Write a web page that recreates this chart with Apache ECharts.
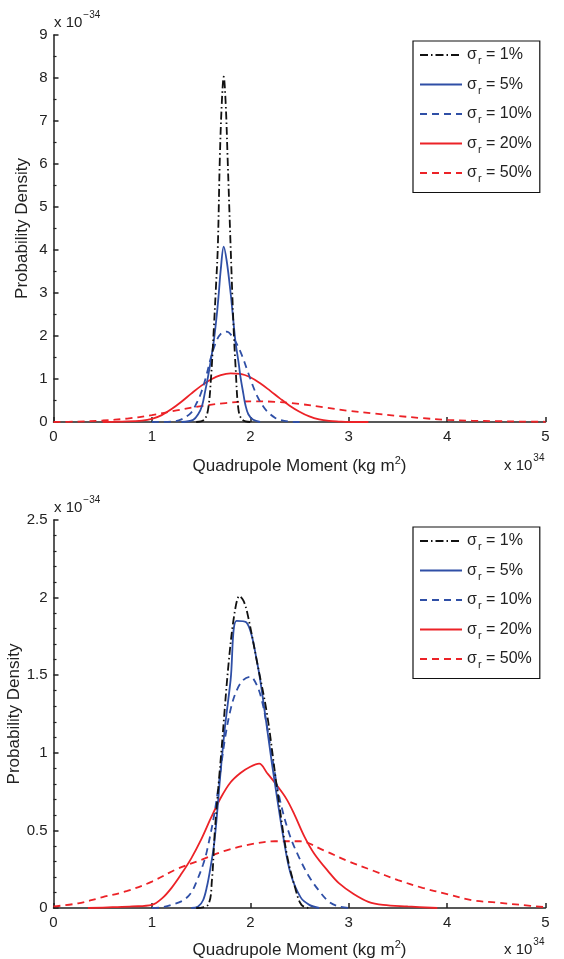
<!DOCTYPE html>
<html lang="en">
<head>
    <meta charset="UTF-8">
    <title>Quadrupole moment PDF</title>
    <script src="https://cdn.jsdelivr.net/npm/echarts@6/dist/echarts.min.js"></script>
    <style>
        * { margin: 0; padding: 0; }
        body { background: #fff; }
        #chart { width: 564px; height: 959px; }
    </style>
</head>
<body>
    <div id="chart"></div>
    <script>
        // legend names
        const names = ['1%', '5%', '10%', '20%', '50%'];

        // tick labels
        const xTicks = [0, 1, 2, 3, 4, 5];
        const yTicksTop = [0, 1, 2, 3, 4, 5, 6, 7, 8, 9];
        const yTicksBottom = [0, 0.5, 1, 1.5, 2, 2.5];

        // upper panel, [x (1e34), density (1e-34)]
        const top1 = [[1.45,0],[1.53,0.05],[1.57,0.28],[1.60,1.0],[1.63,2.2],[1.65,3.1],[1.67,4.08],[1.69,6.1],[1.71,7.4],[1.73,8.03],[1.75,7.4],[1.77,6.1],[1.80,4.08],[1.83,2.2],[1.85,1.3],[1.88,0.28],[1.92,0.05],[2.0,0]];
        const top5 = [[1.3,0],[1.42,0.05],[1.47,0.18],[1.51,0.38],[1.54,0.7],[1.57,1.05],[1.60,1.45],[1.63,1.9],[1.66,2.5],[1.68,3.0],[1.70,3.55],[1.73,4.08],[1.76,3.75],[1.80,3.0],[1.83,2.3],[1.85,1.85],[1.88,1.4],[1.90,1.05],[1.93,0.65],[1.95,0.4],[1.98,0.18],[2.03,0.05],[2.1,0]];
        const top10 = [[1.0,0],[1.2,0.01],[1.3,0.06],[1.4,0.22],[1.45,0.42],[1.5,0.68],[1.55,1.05],[1.6,1.5],[1.65,1.85],[1.7,2.05],[1.76,2.1],[1.82,1.98],[1.87,1.78],[1.92,1.52],[1.97,1.2],[2.02,0.88],[2.07,0.6],[2.12,0.4],[2.17,0.25],[2.25,0.1],[2.3,0.05],[2.4,0.01],[2.5,0]];
        const top20 = [[0.5,0],[0.7,0.01],[0.9,0.03],[1.0,0.07],[1.1,0.16],[1.2,0.3],[1.3,0.47],[1.4,0.66],[1.5,0.84],[1.6,0.99],[1.7,1.09],[1.8,1.13],[1.9,1.12],[2.0,1.04],[2.1,0.9],[2.2,0.73],[2.3,0.55],[2.4,0.38],[2.5,0.24],[2.6,0.13],[2.7,0.06],[2.8,0.025],[2.9,0.01],[3.0,0],[3.2,0]];
        const top50 = [[0,0],[0.25,0.01],[0.5,0.035],[0.75,0.08],[1.0,0.16],[1.25,0.27],[1.5,0.37],[1.75,0.44],[2.0,0.48],[2.25,0.47],[2.5,0.42],[2.75,0.34],[3.0,0.26],[3.25,0.2],[3.5,0.14],[3.75,0.09],[4.0,0.05],[4.25,0.03],[4.5,0.02],[4.75,0.01],[5.0,0.005]];

        // lower panel
        const bot1 = [[1.45,0],[1.57,0.02],[1.61,0.18],[1.64,0.5],[1.71,1.04],[1.78,1.58],[1.84,1.9],[1.89,2.01],[1.93,1.98],[1.97,1.9],[2.07,1.58],[2.17,1.25],[2.27,0.78],[2.37,0.35],[2.46,0.12],[2.52,0.02],[2.6,0]];
        const bot5 = [[1.4,0],[1.47,0.01],[1.52,0.05],[1.56,0.14],[1.59,0.24],[1.63,0.4],[1.66,0.59],[1.69,0.82],[1.74,1.15],[1.80,1.47],[1.86,1.85],[1.96,1.84],[2.07,1.58],[2.15,1.25],[2.22,0.93],[2.27,0.72],[2.34,0.44],[2.41,0.22],[2.51,0.07],[2.6,0.02],[2.7,0]];
        const bot10 = [[1.0,0],[1.1,0.005],[1.2,0.02],[1.32,0.05],[1.4,0.1],[1.46,0.18],[1.52,0.28],[1.56,0.37],[1.63,0.59],[1.68,0.8],[1.74,1.08],[1.8,1.28],[1.86,1.4],[1.93,1.47],[2.0,1.49],[2.07,1.43],[2.12,1.33],[2.17,1.17],[2.22,0.98],[2.3,0.7],[2.4,0.47],[2.5,0.32],[2.6,0.2],[2.7,0.11],[2.8,0.04],[2.9,0.01],[3.0,0]];
        const bot20 = [[0.35,0],[0.6,0.005],[0.8,0.01],[1.0,0.02],[1.1,0.06],[1.2,0.13],[1.3,0.22],[1.4,0.32],[1.5,0.44],[1.6,0.58],[1.7,0.71],[1.8,0.81],[1.9,0.87],[2.0,0.91],[2.09,0.93],[2.17,0.87],[2.27,0.79],[2.37,0.7],[2.45,0.6],[2.55,0.46],[2.65,0.35],[2.8,0.23],[2.9,0.16],[3.05,0.09],[3.2,0.04],[3.35,0.02],[3.6,0.01],[3.9,0]];
        const bot50 = [[0,0.01],[0.25,0.03],[0.5,0.07],[0.75,0.11],[1.0,0.17],[1.25,0.25],[1.5,0.31],[1.75,0.37],[2.0,0.41],[2.25,0.43],[2.5,0.43],[2.75,0.37],[3.0,0.3],[3.25,0.24],[3.5,0.18],[3.75,0.13],[4.0,0.09],[4.25,0.05],[4.5,0.035],[4.75,0.02],[5.0,0.005]];

        const FONT = 'Liberation Sans';
        const BLUE = '#2f4fa6';
        const RED = '#ec2227';
        const BLACK = '#111';

        const styles = [
            { color: BLACK, type: [8, 3, 1.5, 3] },
            { color: BLUE, type: 'solid' },
            { color: BLUE, type: [7, 5] },
            { color: RED, type: 'solid' },
            { color: RED, type: [7, 5] }
        ];

        function label(n) {
            return '{s|σ}{sub|r}{s| = ' + n + '}';
        }

        function makeSeries(list, idx) {
            return list.map((d, i) => ({
                name: label(names[i]),
                type: 'line',
                xAxisIndex: idx,
                yAxisIndex: idx,
                data: d,
                showSymbol: false,
                symbol: 'none',
                smooth: 0.35,
                z: 5 - i,
                lineStyle: { width: 1.8, color: styles[i].color, type: styles[i].type },
                itemStyle: { color: styles[i].color }
            }));
        }

        function xAxisFor(idx, gap) {
            return {
                type: 'value', gridIndex: idx, min: 0, max: 5, interval: 1,
                name: '{a|Quadrupole Moment (kg m}{b|2}{a|)}',
                nameLocation: 'middle', nameGap: gap, nameMoveOverlap: false,
                nameTextStyle: {
                    rich: {
                        a: { fontFamily: FONT, fontSize: 17, color: '#222', verticalAlign: 'bottom' },
                        b: { fontFamily: FONT, fontSize: 11, color: '#222', verticalAlign: 'top', padding: [0, 0, 9, 0] }
                    }
                },
                axisLine: { show: true, lineStyle: { color: '#222', width: 1.5 } },
                axisTick: { show: true, inside: true, length: 5, lineStyle: { color: '#222', width: 1.5 } },
                axisLabel: {
                    fontFamily: FONT, fontSize: 15, color: '#222', margin: 7,
                    formatter: v => String(xTicks.find(t => Math.abs(t - v) < 1e-9) ?? v)
                },
                splitLine: { show: false }
            };
        }

        function yAxisFor(idx, max, interval, minor, ticks, gap) {
            return {
                type: 'value', gridIndex: idx, min: 0, max: max, interval: interval,
                name: 'Probability Density',
                nameLocation: 'middle', nameGap: gap, nameMoveOverlap: false,
                nameTextStyle: { fontFamily: FONT, fontSize: 17, color: '#222' },
                axisLine: { show: true, lineStyle: { color: '#222', width: 1.5 } },
                axisTick: { show: true, inside: true, length: 5, lineStyle: { color: '#222', width: 1.5 } },
                minorTick: { show: true, splitNumber: minor, length: 3, lineStyle: { color: '#222', width: 1.2 } },
                axisLabel: {
                    fontFamily: FONT, fontSize: 15, color: '#222', margin: 6,
                    formatter: v => String(ticks.find(t => Math.abs(t - v) < 1e-9) ?? v)
                },
                splitLine: { show: false }
            };
        }

        function legendFor(top) {
            return {
                orient: 'vertical',
                left: 413,
                top: top,
                data: names.map(n => label(n)),
                itemWidth: 42,
                itemHeight: 14,
                itemGap: 10,
                padding: [6, 8, 8, 6],
                borderColor: '#111',
                borderWidth: 1.2,
                borderRadius: 0,
                backgroundColor: '#fff',
                selectedMode: false,
                itemStyle: { opacity: 0 },
                textStyle: {
                    fontFamily: FONT, fontSize: 16, color: '#222',
                    rich: {
                        s: { fontFamily: FONT, fontSize: 16, color: '#222' },
                        sub: { fontFamily: FONT, fontSize: 11, color: '#222', verticalAlign: 'bottom', padding: [12, 0, 0, 1] }
                    }
                }
            };
        }

        function sciText(x, y, sign) {
            return {
                type: 'text', left: x, top: y, z: 100,
                style: {
                    text: '{a|x 10}{b|' + sign + '34}',
                    rich: {
                        a: { fontFamily: FONT, fontSize: 15, fill: '#222', verticalAlign: 'bottom' },
                        b: { fontFamily: FONT, fontSize: 10, fill: '#222', verticalAlign: 'top', padding: [0, 0, 10, 1] }
                    }
                }
            };
        }

        const chart = echarts.init(document.getElementById('chart'));
        const topSeries = makeSeries([top1, top5, top10, top20, top50], 0);
        const botSeries = makeSeries([bot1, bot5, bot10, bot20, bot50], 1);

        chart.setOption({
            animation: false,
            grid: [
                { left: 53.5, right: 18.5, top: 35, height: 387, outerBoundsMode: 'none', containLabel: false },
                { left: 53.5, right: 18.5, top: 520, height: 388, outerBoundsMode: 'none', containLabel: false }
            ],
            xAxis: [xAxisFor(0, 33), xAxisFor(1, 31)],
            yAxis: [yAxisFor(0, 9, 1, 2, yTicksTop, 23), yAxisFor(1, 2.5, 0.5, 5, yTicksBottom, 31)],
            legend: [legendFor(41), legendFor(527)],
            series: topSeries.concat(botSeries),
            graphic: [
                sciText(54, 10, '−'),
                sciText(54, 495, '−'),
                sciText(504, 453, ''),
                sciText(504, 937, '')
            ]
        });
    </script>
</body>
</html>
